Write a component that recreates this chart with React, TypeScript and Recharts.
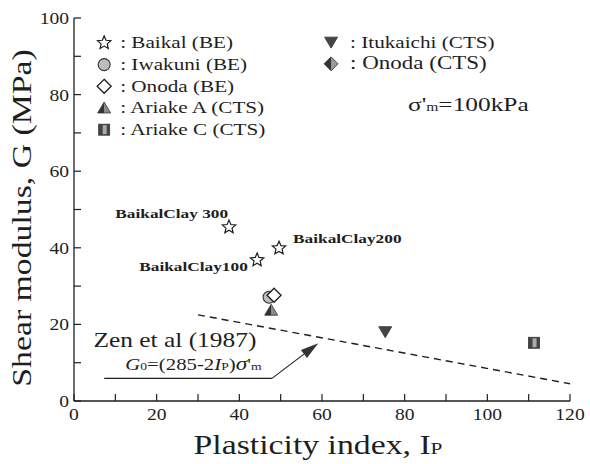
import { ScatterChart, Scatter, XAxis, YAxis, ReferenceDot, ReferenceLine } from "recharts"

const FONT = "Liberation Serif"
const INK = "#1e1e1e"

// Baikal clay, bender element
const baikalIp = [37.5, 44.3, 49.6]
const baikalG = [45.4, 36.8, 39.9]
const baikalNames = ["BaikalClay 300", "BaikalClay100", "BaikalClay200"]

const iwakuniIp = [47.2]
const iwakuniG = [27.1]
const onodaBeIp = [48.4]
const onodaBeG = [27.6]
const ariakeAIp = [47.7]
const ariakeAG = [23.7]
const itukaichiIp = [75.3]
const itukaichiG = [18.1]
const ariakeCIp = [111.3]
const ariakeCG = [15.2]

// Zen et al (1987): G0 = (285 - 2Ip) σ'm, σ'm = 100kPa
const zenIp = [30, 120]
const zenG = [22.5, 4.5]

// annotation leader: underline then arrow
const arrowIp = [7.3, 47.9, 59.1]
const arrowG = [5.9, 5.9, 15.1]

const xTicks = [0, 10, 20, 30, 40, 50, 60, 70, 80, 90, 100, 110, 120]
const yTicks = [0, 10, 20, 30, 40, 50, 60, 70, 80, 90, 100]

const legendLeft = [
  { kind: "star", text: ": Baikal (BE)" },
  { kind: "circle", text: ": Iwakuni (BE)" },
  { kind: "diamond", text: ": Onoda (BE)" },
  { kind: "triUp", text: ": Ariake A (CTS)" },
  { kind: "square", text: ": Ariake C (CTS)" },
]
const legendRight = [
  { kind: "triDown", text: ": Itukaichi (CTS)" },
  { kind: "diamondCts", text: ": Onoda (CTS)" },
]

const pts = (xs: number[], ys: number[]) => xs.map((x, i) => ({ x, y: ys[i] }))

function starPoints(cx: number, cy: number, R: number, r: number) {
  const out: string[] = []
  for (let i = 0; i < 10; i++) {
    const a = -Math.PI / 2 + (i * Math.PI) / 5
    const d = i % 2 === 0 ? R : r
    out.push(`${cx + d * Math.cos(a)},${cy + d * Math.sin(a)}`)
  }
  return out.join(" ")
}

function Marker({ kind, cx, cy }: { kind: string; cx: number; cy: number }) {
  switch (kind) {
    case "star":
      return <polygon points={starPoints(cx, cy, 7, 3.2)} fill="#fff" stroke={INK} strokeWidth={1.2} />
    case "circle":
      return <circle cx={cx} cy={cy} r={6} fill="#bdbdbd" stroke="#333" strokeWidth={1.1} />
    case "diamond":
      return (
        <polygon
          points={`${cx},${cy - 7} ${cx + 7},${cy} ${cx},${cy + 7} ${cx - 7},${cy}`}
          fill="#fff"
          stroke={INK}
          strokeWidth={1.3}
        />
      )
    case "diamondCts":
      return (
        <g>
          <polygon points={`${cx},${cy - 7} ${cx + 7},${cy} ${cx},${cy + 7}`} fill="#999" />
          <polygon points={`${cx},${cy - 7} ${cx - 7},${cy} ${cx},${cy + 7}`} fill="#333" />
          <polygon
            points={`${cx},${cy - 7} ${cx + 7},${cy} ${cx},${cy + 7} ${cx - 7},${cy}`}
            fill="none"
            stroke="#333"
            strokeWidth={0.8}
          />
        </g>
      )
    case "triUp":
      return (
        <g>
          <polygon points={`${cx},${cy - 6} ${cx + 6.5},${cy + 5} ${cx},${cy + 5}`} fill="#8a8a8a" />
          <polygon points={`${cx},${cy - 6} ${cx - 6.5},${cy + 5} ${cx},${cy + 5}`} fill="#333" />
          <polygon
            points={`${cx},${cy - 6} ${cx + 6.5},${cy + 5} ${cx - 6.5},${cy + 5}`}
            fill="none"
            stroke="#333"
            strokeWidth={0.8}
          />
        </g>
      )
    case "triDown":
      return (
        <polygon
          points={`${cx - 6.5},${cy - 5} ${cx + 6.5},${cy - 5} ${cx},${cy + 6}`}
          fill="#454545"
          stroke="#333"
          strokeWidth={0.8}
        />
      )
    case "square":
      return (
        <g>
          <rect x={cx - 5.5} y={cy - 5.5} width={11} height={11} fill="#444" stroke="#333" strokeWidth={0.8} />
          <rect x={cx - 1.5} y={cy - 4.5} width={4} height={9} fill="#aaa" />
        </g>
      )
  }
  return null
}

const shapeOf = (kind: string) => (p: any) => <Marker kind={kind} cx={p.cx} cy={p.cy} />

// letter-spacing makes the renderer drop the serif face, so the wide
// look of the original lettering is done with a horizontal stretch
const SText = ({ x, y, size, sx = 1, anchor = "start", weight, rotate, children }: any) => (
  <text
    transform={`translate(${x} ${y})${rotate ? ` rotate(${rotate})` : ""} scale(${sx} 1)`}
    x={0}
    y={0}
    fontSize={size}
    fontFamily={FONT}
    fontWeight={weight}
    fill={INK}
    textAnchor={anchor}
  >
    {children}
  </text>
)

const BottomTick = (p: any) => {
  const v = p.payload.value
  return (
    <g>
      <line x1={p.x} y1={p.y} x2={p.x} y2={p.y - 7} stroke={INK} strokeWidth={1.2} />
      {v % 20 === 0 && (
        <SText x={p.x} y={p.y + 19} size={17.5} sx={1.12} anchor="middle">
          {v}
        </SText>
      )}
    </g>
  )
}
const TopTick = (p: any) => (
  <line x1={p.x} y1={p.y} x2={p.x} y2={p.y + 7} stroke={INK} strokeWidth={1.2} />
)
const LeftTick = (p: any) => {
  const v = p.payload.value
  return (
    <g>
      <line x1={p.x} y1={p.y} x2={p.x + 7} y2={p.y} stroke={INK} strokeWidth={1.2} />
      {v % 20 === 0 && (
        <SText x={p.x - 5} y={p.y + 6} size={17.5} sx={1.12} anchor="end">
          {v}
        </SText>
      )}
    </g>
  )
}
const RightTick = (p: any) => (
  <line x1={p.x} y1={p.y} x2={p.x - 7} y2={p.y} stroke={INK} strokeWidth={1.2} />
)

const LegendBlock = ({ cx, cy, items, gap, sizes }: any) => (
  <g>
    {items.map((it: any, i: number) => (
      <g key={it.text}>
        <Marker kind={it.kind} cx={cx} cy={cy + i * 21.7} />
        <SText x={cx + gap} y={cy + i * 21.7 + 5.5} size={sizes ? sizes[i] : 17.5} sx={1.21}>
          {it.text}
        </SText>
      </g>
    ))}
  </g>
)

const Arrow = (p: any) => {
  const { x1, y1, x2, y2 } = p
  const a = Math.atan2(y2 - y1, x2 - x1)
  const L = 18
  const W = 5
  const bx = x2 - L * Math.cos(a)
  const by = y2 - L * Math.sin(a)
  const nx = -Math.sin(a) * W
  const ny = Math.cos(a) * W
  return (
    <g>
      <line x1={x1} y1={y1} x2={bx} y2={by} stroke={INK} strokeWidth={1.1} />
      <polygon points={`${x2},${y2} ${bx + nx},${by + ny} ${bx - nx},${by - ny}`} fill="#333" />
    </g>
  )
}

const XTitle = (p: any) => {
  const vb = p.viewBox
  return (
    <SText x={vb.x + vb.width / 2 - 4} y={vb.y + 53} size={27} sx={1.25} anchor="middle">
      Plasticity index, I<tspan fontSize={17}>P</tspan>
    </SText>
  )
}
const YTitle = () => (
  <SText x={31} y={218} size={27} sx={1.25} anchor="middle" rotate={-90}>
    Shear modulus, G (MPa)
  </SText>
)

const baikalLabel = (name: string) => (p: any) => (
  <SText x={p.cx} y={p.cy} size={13.5} sx={1.28} weight="bold">
    {name}
  </SText>
)

export default function App() {
  return (
    <div style={{ position: "absolute", left: 0, top: 0, width: 590, height: 464, background: "#fff" }}>
      <ScatterChart width={590} height={464} margin={{ top: 18, right: 20, bottom: 0, left: 0 }}>
        <XAxis
          type="number"
          dataKey="x"
          domain={[0, 120]}
          ticks={xTicks}
          interval={0}
          height={63}
          tickSize={0}
          tickMargin={0}
          tick={<BottomTick />}
          axisLine={{ stroke: INK, strokeWidth: 1.3 }}
          label={{ content: XTitle }}
        />
        <XAxis
          xAxisId="top"
          orientation="top"
          type="number"
          dataKey="x"
          domain={[0, 120]}
          ticks={xTicks}
          interval={0}
          height={0}
          tickSize={0}
          tickMargin={0}
          tick={<TopTick />}
          axisLine={{ stroke: INK, strokeWidth: 1.3 }}
        />
        <YAxis
          type="number"
          dataKey="y"
          domain={[0, 100]}
          ticks={yTicks}
          interval={0}
          width={74}
          tickSize={0}
          tickMargin={0}
          tick={<LeftTick />}
          axisLine={{ stroke: INK, strokeWidth: 1.3 }}
          label={{ content: YTitle }}
        />
        <YAxis
          yAxisId="right"
          orientation="right"
          type="number"
          dataKey="y"
          domain={[0, 100]}
          ticks={yTicks}
          interval={0}
          width={0}
          tickSize={0}
          tickMargin={0}
          tick={<RightTick />}
          axisLine={{ stroke: INK, strokeWidth: 1.3 }}
        />

        <Scatter
          data={pts(zenIp, zenG)}
          line={{ stroke: INK, strokeWidth: 1.4, strokeDasharray: "7 5" }}
          shape={() => <g />}
          isAnimationActive={false}
        />
        <ReferenceLine
          segment={[
            { x: arrowIp[0], y: arrowG[0] },
            { x: arrowIp[1], y: arrowG[1] },
          ]}
          stroke={INK}
          strokeWidth={1.1}
          ifOverflow="visible"
        />
        <ReferenceLine
          segment={[
            { x: arrowIp[1], y: arrowG[1] },
            { x: arrowIp[2], y: arrowG[2] },
          ]}
          shape={Arrow}
          ifOverflow="visible"
        />

        <Scatter data={pts(ariakeAIp, ariakeAG)} shape={shapeOf("triUp")} isAnimationActive={false} />
        <Scatter data={pts(iwakuniIp, iwakuniG)} shape={shapeOf("circle")} isAnimationActive={false} />
        <Scatter data={pts(onodaBeIp, onodaBeG)} shape={shapeOf("diamond")} isAnimationActive={false} />
        <Scatter data={pts(baikalIp, baikalG)} shape={shapeOf("star")} isAnimationActive={false} />
        <Scatter data={pts(itukaichiIp, itukaichiG)} shape={shapeOf("triDown")} isAnimationActive={false} />
        <Scatter data={pts(ariakeCIp, ariakeCG)} shape={shapeOf("square")} isAnimationActive={false} />

        {/* point labels for Baikal clay */}
        <ReferenceDot x={10} y={47.8} ifOverflow="visible" shape={baikalLabel(baikalNames[0])} />
        <ReferenceDot x={15.8} y={33.9} ifOverflow="visible" shape={baikalLabel(baikalNames[1])} />
        <ReferenceDot x={53} y={41.2} ifOverflow="visible" shape={baikalLabel(baikalNames[2])} />

        {/* Zen et al annotation */}
        <ReferenceDot
          x={4.7}
          y={14}
          ifOverflow="visible"
          shape={(p: any) => (
            <SText x={p.cx} y={p.cy} size={20.5} sx={1.24}>
              Zen et al (1987)
            </SText>
          )}
        />
        <ReferenceDot
          x={12.4}
          y={8}
          ifOverflow="visible"
          shape={(p: any) => (
            <SText x={p.cx} y={p.cy} size={16} sx={1.3}>
              <tspan fontStyle="italic">G</tspan>
              <tspan fontSize={10.5}>0</tspan>
              <tspan>=(285-2</tspan>
              <tspan fontStyle="italic">I</tspan>
              <tspan fontSize={10.5}>P</tspan>
              <tspan>)</tspan>
              <tspan fontStyle="italic" fontSize={18}>σ</tspan>
              <tspan>'</tspan>
              <tspan fontSize={10.5}>m</tspan>
            </SText>
          )}
        />

        {/* σ'm note */}
        <ReferenceDot
          x={80.8}
          y={75.8}
          ifOverflow="visible"
          shape={(p: any) => (
            <SText x={p.cx} y={p.cy} size={19.5} sx={1.3}>
              σ'<tspan fontSize={12}>m</tspan>=100kPa
            </SText>
          )}
        />

        {/* legend */}
        <ReferenceDot
          x={7.3}
          y={93.5}
          ifOverflow="visible"
          shape={(p: any) => <LegendBlock cx={p.cx} cy={p.cy} items={legendLeft} gap={16} />}
        />
        <ReferenceDot
          x={62.2}
          y={93.7}
          ifOverflow="visible"
          shape={(p: any) => <LegendBlock cx={p.cx} cy={p.cy} items={legendRight} gap={19} sizes={[17.5, 19]} />}
        />
      </ScatterChart>
    </div>
  )
}
